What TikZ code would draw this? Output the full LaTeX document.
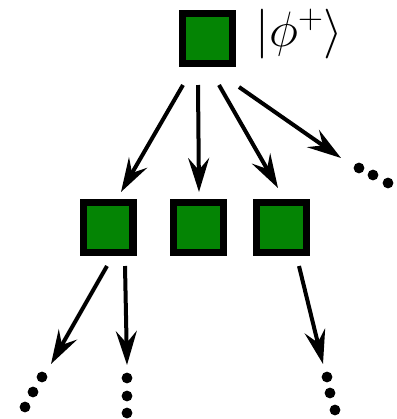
\documentclass[tikz,border=0pt]{standalone}
\usepackage{amsmath,amssymb}
\usetikzlibrary{arrows.meta}
\definecolor{stategreen}{RGB}{4,132,4}

\begin{document}
\begin{tikzpicture}[x=0.5pt,y=-0.5pt,
state/.style={draw=black,line width=3.5pt,fill=stategreen,minimum size=25pt,inner sep=0pt},
branch/.style={line width=2pt,-{Stealth[length=17pt,width=10.5pt,inset=6pt]}}]
\useasboundingbox (0,0) rectangle (397,419);
% The root state and its label
\node[state] (root) at (207.5,38.5) {};
\node[anchor=west,inner sep=0pt] (ket) at (255,34) {\fontsize{27}{32}\selectfont$|\phi^+\rangle$};
% The second row
\node[state] (s1) at (108,227) {};
\node[state] (s2) at (198.5,227) {};
\node[state] (s3) at (281.5,227) {};

% Ends of the branches
\coordinate (r1) at (183,85);  \coordinate (e1) at (121,192);
\coordinate (r2) at (198,85);  \coordinate (e2) at (199,192);
\coordinate (r3) at (219,85);  \coordinate (e3) at (278,188);
\coordinate (r4) at (239,87);  \coordinate (e4) at (341,158);
\coordinate (a1) at (107,266); \coordinate (f1) at (51,364);
\coordinate (a2) at (125,266); \coordinate (f2) at (127,365);
\coordinate (a3) at (299,266); \coordinate (f3) at (323,364);

% The branches
\foreach \from/\to in {r1/e1,r2/e2,r3/e3,r4/e4,a1/f1,a2/f2,a3/f3}
  \draw[branch] (\from) -- (\to);

% The dots
\foreach \p in {(359,168),(373,175),(388,183),
                (42,377),(33,392),(25,407),
                (127,378),(127,396),(127,413),
                (327,377),(330,393),(335,410)}
  \fill \p circle (2.7pt);
\end{tikzpicture}
\end{document}
